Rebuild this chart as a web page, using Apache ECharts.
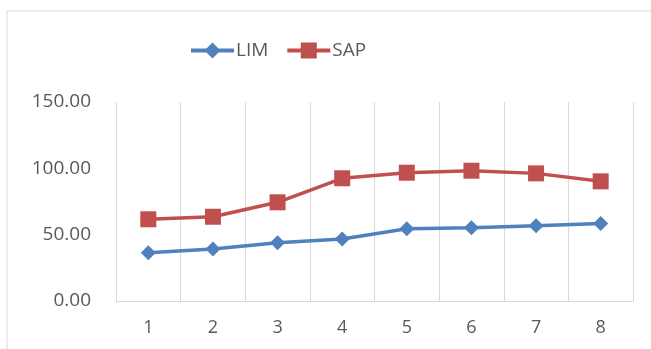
<!DOCTYPE html>
<html>
<head>
<meta charset="utf-8">
<script src="https://cdn.jsdelivr.net/npm/echarts@6/dist/echarts.min.js"></script>
<style>
  html, body { margin: 0; padding: 0; background: #fff; }
  #chart { width: 651px; height: 349px; }
</style>
</head>
<body>
<div id="chart"></div>
<script>
// Categories and series values
const categories = ['1', '2', '3', '4', '5', '6', '7', '8'];
const limValues = [36.4, 39.2, 43.9, 46.7, 54.5, 55.2, 56.8, 58.5];
const sapValues = [61.6, 63.5, 74.4, 92.5, 96.7, 98.2, 96.2, 90.2];
const yTicks = { min: 0, max: 150, step: 50 };

const textColor = '#595959';
const fontFamily = '"Open Sans", "Noto Sans", sans-serif';

const chart = echarts.init(document.getElementById('chart'), null, { renderer: 'canvas' });
chart.setOption({
  backgroundColor: '#fff',
  animation: false,
  graphic: [{
    type: 'rect',
    shape: { x: 7, y: 11, width: 660, height: 360 },
    style: { fill: 'none', stroke: '#d9d9d9', lineWidth: 1 },
    z: -1
  }],
  legend: {
    top: 36,
    left: 184,
    itemWidth: 43,
    itemHeight: 20,
    itemGap: 17,
    lineStyle: { width: 4 },
    textStyle: { color: textColor, fontSize: 19, fontFamily: fontFamily, padding: [0, 0, 0, -3] },
    data: ['LIM', 'SAP']
  },
  grid: { left: 116, right: 18, top: 102, bottom: 48 },
  xAxis: {
    type: 'category',
    data: categories,
    boundaryGap: true,
    axisLine: { show: true, lineStyle: { color: '#d9d9d9', width: 1 } },
    axisTick: { show: false },
    splitLine: { show: true, lineStyle: { color: '#d9d9d9', width: 1 } },
    axisLabel: { color: textColor, fontSize: 18, fontFamily: fontFamily, margin: 18 }
  },
  yAxis: {
    type: 'value',
    min: yTicks.min,
    max: yTicks.max,
    interval: yTicks.step,
    axisLine: { show: false },
    axisTick: { show: false },
    splitLine: { show: false },
    axisLabel: {
      color: textColor, fontSize: 19, fontFamily: fontFamily, margin: 25,
      formatter: v => v.toFixed(2)
    }
  },
  series: [
    {
      name: 'LIM',
      type: 'line',
      data: limValues,
      symbol: 'diamond',
      symbolSize: 15,
      lineStyle: { color: '#4F81BD', width: 3.5 },
      itemStyle: { color: '#4F81BD' }
    },
    {
      name: 'SAP',
      type: 'line',
      data: sapValues,
      symbol: 'rect',
      symbolSize: 16,
      lineStyle: { color: '#C0504D', width: 3.5 },
      itemStyle: { color: '#C0504D' }
    }
  ]
});
</script>
</body>
</html>
